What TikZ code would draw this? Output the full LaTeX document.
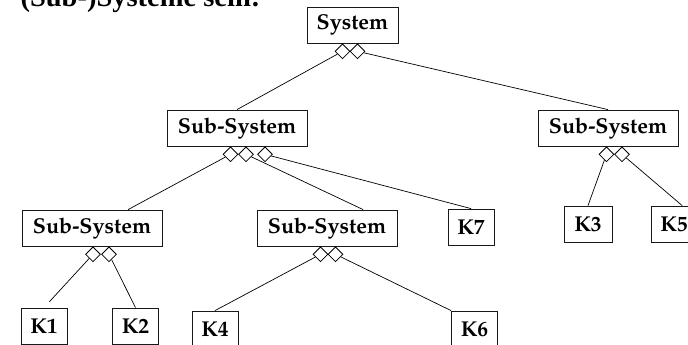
\documentclass[tikz,border=0pt]{standalone}
\usepackage[T1]{fontenc}
\usepackage{fontspec}
\newfontfamily\titlefont{Liberation Serif}
\newcommand\boxfont{\fontencoding{T1}\fontfamily{ppl}\fontseries{b}\fontshape{n}\fontsize{21.5}{26}\selectfont}
\usetikzlibrary{positioning,shapes.geometric}

\begin{document}
\begin{tikzpicture}[x=1pt,y=-1pt]
\tikzstyle{comp}=[rectangle, draw=black!90, line width=0.8pt, minimum height=36pt, inner sep=0pt, font=\boxfont]
\tikzstyle{agg}=[diamond, draw=black, line width=0.8pt, fill=white, minimum width=15pt, minimum height=15pt, inner sep=0pt]
\tikzstyle{connect}=[line width=0.7pt]
	\useasboundingbox (0,0) rectangle (688,345);
	\node[anchor=base west, font=\titlefont\bfseries\fontsize{28.5}{30}\selectfont] (title) at (17,7) {(Sub-)Systeme sein:};
	% top level
	\node[comp, minimum width=91pt] (sys) at (352.5,25) {System};
	\node[agg, anchor=north] (sysA) at ([xshift=-10pt]sys.south) { };
	\node[agg, anchor=north] (sysB) at ([xshift=5pt]sys.south) { };
	% second level
	\node[comp, minimum width=140pt] (sub1) at (237,128) {Sub-System};
	\node[comp, minimum width=140pt] (subR) at (608,128) {Sub-System};
	\node[agg, anchor=north] (sub1A) at ([xshift=-6.5pt]sub1.south) { };
	\node[agg, anchor=north] (sub1B) at ([xshift=9pt]sub1.south) { };
	\node[agg, anchor=north] (sub1C) at ([xshift=28pt]sub1.south) { };
	\node[agg, anchor=north] (subRA) at ([xshift=-1.5pt]subR.south) { };
	\node[agg, anchor=north] (subRB) at ([xshift=14pt]subR.south) { };
	\path (sysA) edge [connect] (sub1.north);
	\path (sysB) edge [connect] (subR.north);
	% third level
	\node[comp, minimum width=140pt] (subL) at (92,228) {Sub-System};
	\node[comp, minimum width=140pt] (subM) at (327,228) {Sub-System};
	\node[comp, minimum width=46pt] (k7) at (471,227) {K7};
	\node[comp, minimum width=48pt] (k3) at (588,224) {K3};
	\node[comp, minimum width=46pt] (k5) at (674,224) {K5};
	\node[agg, anchor=north] (subLA) at ([xshift=1pt]subL.south) { };
	\node[agg, anchor=north] (subLB) at ([xshift=17pt]subL.south) { };
	\node[agg, anchor=north] (subMA) at ([xshift=-6.5pt]subM.south) { };
	\node[agg, anchor=north] (subMB) at ([xshift=8.5pt]subM.south) { };
	\path (sub1A) edge [connect] (subL.27);
	\path (sub1B) edge [connect] (subM.27);
	\path (sub1C) edge [connect] (k7.north);
	\path (subRA) edge [connect] (k3.north);
	\path (subRB) edge [connect] (k5.66);
	% components
	\node[comp, minimum width=46pt] (k1) at (44,326) {K1};
	\node[comp, minimum width=46pt] (k2) at (135.5,326) {K2};
	\node[comp, minimum width=46pt] (k4) at (215,329) {K4};
	\node[comp, minimum width=46pt] (k6) at (474.5,329) {K6};
	\path (subLA) edge [connect, shorten >=8pt] (k1.north);
	\path (subLB) edge [connect] (k2.north);
	\path (subMA) edge [connect] (k4.north);
	\path (subMB) edge [connect] (k6.north west);
\end{tikzpicture}
\end{document}
